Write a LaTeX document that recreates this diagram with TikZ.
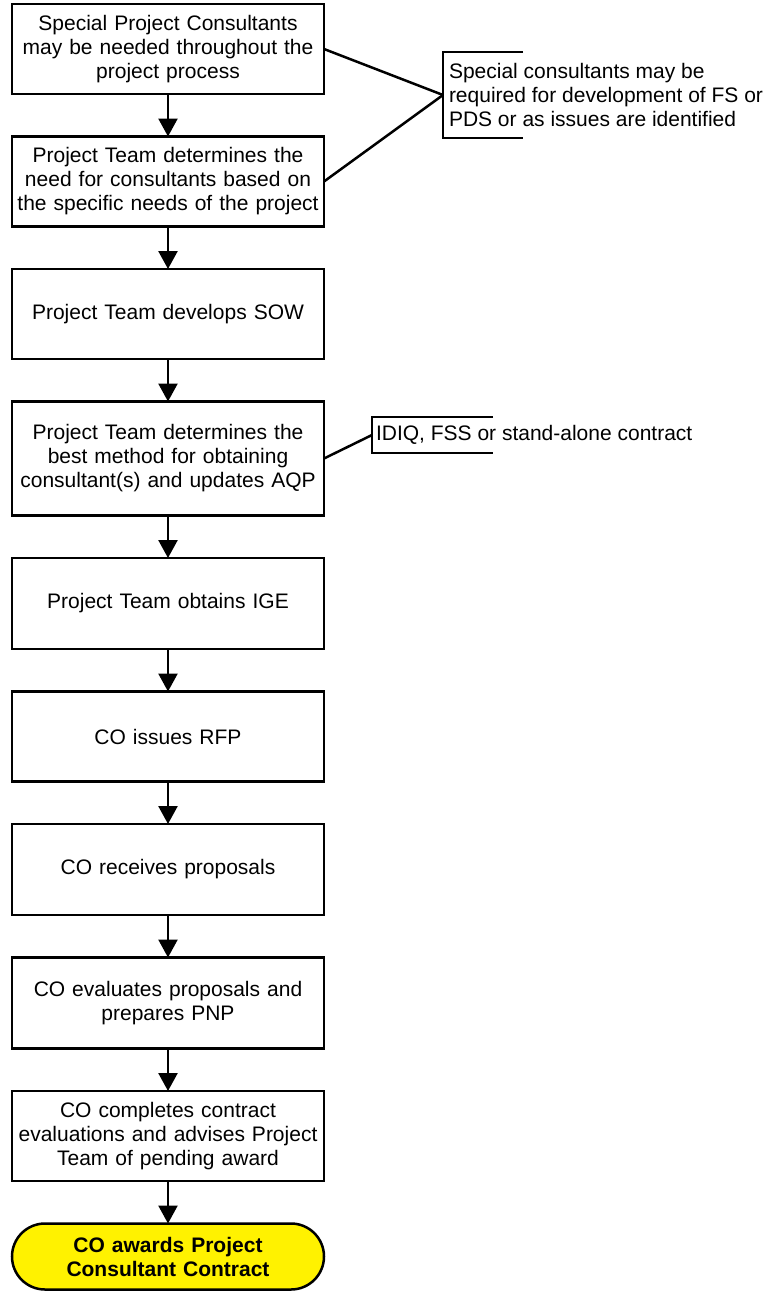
\documentclass[tikz,border=0pt]{standalone}
\usepackage{fontspec}
\setmainfont{Liberation Sans}
\usetikzlibrary{positioning,arrows.meta}

\begin{document}
\begin{tikzpicture}[x=1pt,y=1pt,node distance=42.5pt]
\tikzstyle{every node}=[font=\fontsize{21}{24}\selectfont]
\tikzstyle{stepbox}=[rectangle,draw,line width=2.5pt,outer sep=0pt,text width=308pt,align=center,minimum width=312pt,inner sep=2pt]
\tikzstyle{endbox}=[stepbox,fill=yellow,rounded corners=33pt,font=\fontsize{21}{24}\selectfont\bfseries]
\tikzstyle{note}=[align=left,outer sep=0pt,inner ysep=0pt]
\tikzstyle{arr}=[line width=2.5pt,-{Triangle[length=18pt,width=19pt]}]
\tikzstyle{link}=[line width=2.5pt]
\useasboundingbox (0,0) rectangle (774,-1293);
% main chain
\node[stepbox,minimum height=90pt] (consult) at (168,-49) {Special Project Consultants\\may be needed throughout the\\project process};
\node[stepbox,minimum height=90pt,below=of consult] (need) {Project Team determines the\\need for consultants based on\\the specific needs of the project};
\node[stepbox,minimum height=90pt,below=of need] (sow) {Project Team develops SOW};
\node[stepbox,minimum height=114pt,below=of sow] (method) {Project Team determines the\\best method for obtaining\\consultant(s) and updates AQP};
\node[stepbox,minimum height=91pt,below=of method] (ige) {Project Team obtains IGE};
\node[stepbox,minimum height=90pt,below=of ige] (rfp) {CO issues RFP};
\node[stepbox,minimum height=91pt,below=of rfp] (receive) {CO receives proposals};
\node[stepbox,minimum height=91pt,below=of receive] (evaluate) {CO evaluates proposals and\\prepares PNP};
\node[stepbox,minimum height=90pt,below=of evaluate] (complete) {CO completes contract\\evaluations and advises Project\\Team of pending award};
\node[endbox,minimum height=66pt,below=of complete] (award) {CO awards Project\\Consultant Contract};
\foreach \a/\b in {consult/need,need/sow,sow/method,method/ige,ige/rfp,rfp/receive,receive/evaluate,evaluate/complete,complete/award}
  \draw[arr] (\a) -- (\b);
% side notes
\node[note,anchor=west,minimum height=86pt,inner xsep=6pt] (fsnote) at (443,-95) {Special consultants may be\\required for development of FS or\\PDS or as issues are identified};
\draw[link] ([xshift=80pt]fsnote.north west) -- (fsnote.north west) -- (fsnote.south west) -- ([xshift=80pt]fsnote.south west);
\draw[link] (consult.east) -- (fsnote.west);
\draw[link] (need.east) -- (fsnote.west);
\node[note,anchor=west,minimum height=36pt,inner xsep=4pt] (idiq) at (372,-435) {IDIQ, FSS or stand-alone contract};
\draw[link] ([xshift=121pt]idiq.north west) -- (idiq.north west) -- (idiq.south west) -- ([xshift=121pt]idiq.south west);
\draw[link] (method.east) -- (idiq.west);
\end{tikzpicture}
\end{document}
